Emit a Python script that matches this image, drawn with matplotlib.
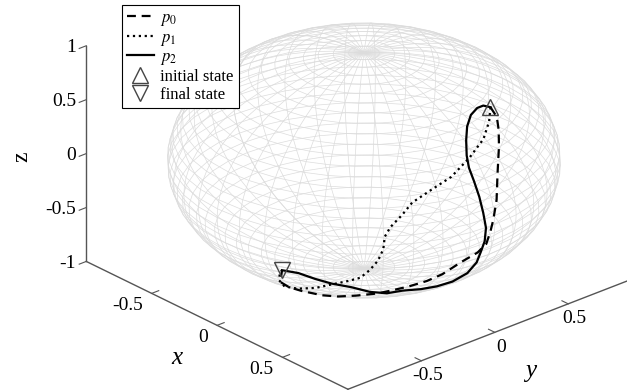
import numpy as np
import matplotlib
matplotlib.use('Agg')
import matplotlib.pyplot as plt
from mpl_toolkits.mplot3d import proj3d

plt.rcParams['font.family'] = ['Liberation Serif', 'DejaVu Serif']
plt.rcParams['mathtext.fontset'] = 'stix'

# Bloch vectors along the three trajectories
p0_x = [0.63, 0.69, 0.76, 0.83, 0.92, 0.98, 1.00, 1.00, 0.98, 0.97, 0.94, 0.88, 0.84, 0.77, 0.71, 0.64, 0.52, 0.43, 0.31, 0.23, 0.20, 0.26, 0.35]
p0_y = [0.30, 0.29, 0.24, 0.18, 0.09, 0.03, -0.01, -0.03, -0.04, -0.09, -0.17, -0.25, -0.32, -0.38, -0.44, -0.48, -0.52, -0.56, -0.56, -0.63, -0.69, -0.80, -0.87]
p0_z = [0.71, 0.66, 0.61, 0.53, 0.38, 0.20, 0.05, -0.05, -0.17, -0.23, -0.29, -0.40, -0.45, -0.51, -0.55, -0.60, -0.67, -0.71, -0.77, -0.74, -0.69, -0.55, -0.35]

p1_x = [0.63, 0.71, 0.79, 0.84, 0.87, 0.86, 0.84, 0.84, 0.82, 0.81, 0.81, 0.78, 0.74, 0.69, 0.63, 0.55, 0.44, 0.30, 0.19, 0.25, 0.31, 0.35]
p1_y = [0.30, 0.22, 0.11, -0.03, -0.18, -0.31, -0.42, -0.49, -0.55, -0.58, -0.59, -0.60, -0.62, -0.64, -0.67, -0.70, -0.72, -0.72, -0.71, -0.80, -0.85, -0.87]
p1_z = [0.71, 0.67, 0.61, 0.54, 0.46, 0.40, 0.33, 0.25, 0.16, 0.08, -0.03, -0.15, -0.25, -0.34, -0.39, -0.45, -0.54, -0.63, -0.68, -0.54, -0.42, -0.35]

p2_x = [0.63, 0.62, 0.63, 0.66, 0.71, 0.77, 0.83, 0.87, 0.92, 0.96, 0.99, 1.00, 0.99, 0.97, 0.94, 0.88, 0.80, 0.77, 0.75, 0.71, 0.68, 0.63, 0.61, 0.55, 0.49, 0.43, 0.35]
p2_y = [0.30, 0.26, 0.21, 0.14, 0.07, 0.01, -0.04, -0.06, -0.07, -0.07, -0.07, -0.06, -0.06, -0.07, -0.07, -0.08, -0.11, -0.19, -0.28, -0.37, -0.45, -0.52, -0.63, -0.71, -0.77, -0.83, -0.87]
p2_z = [0.71, 0.74, 0.75, 0.74, 0.70, 0.64, 0.56, 0.48, 0.39, 0.27, 0.14, 0.00, -0.13, -0.24, -0.35, -0.48, -0.59, -0.61, -0.60, -0.59, -0.59, -0.57, -0.48, -0.44, -0.40, -0.35, -0.35]

init_state = [0.63, 0.30, 0.71]
final_state = [0.35, -0.87, -0.35]

xy_ticks = [-0.5, 0, 0.5]
xy_tick_labels = ['-0.5', '0', '0.5']
z_ticks = [-1, -0.5, 0, 0.5, 1]
z_tick_labels = ['-1', '-0.5', '0', '0.5', '1']

n_mesh = 40  # faces of the sphere mesh in each direction


fig = plt.figure(figsize=(6.27, 3.90), dpi=100)
ax = fig.add_axes([0.0989, -0.1859, 0.9378, 1.5077], projection='3d',
                  proj_type='ortho', computed_zorder=False)
ax.set_box_aspect((1, 1, 0.609))
ax.view_init(elev=25.8, azim=-41.7)

# unit sphere as a see-through mesh
th = np.linspace(-np.pi, np.pi, n_mesh + 1)
ph = np.linspace(-np.pi / 2, np.pi / 2, n_mesh + 1)
TH, PH = np.meshgrid(th, ph)
ax.plot_wireframe(np.cos(PH) * np.cos(TH), np.cos(PH) * np.sin(TH), np.sin(PH),
                  color='#dcdcdc', linewidth=0.5, zorder=1)

ax.plot(p0_x, p0_y, p0_z, color='k', lw=1.6, dashes=(4, 2.6), label='$p_0$', zorder=3)
ax.plot(p1_x, p1_y, p1_z, color='k', lw=1.6, linestyle=':', label='$p_1$', zorder=3)
ax.plot(p2_x, p2_y, p2_z, color='k', lw=1.6, label='$p_2$', zorder=3)
ax.plot([init_state[0]], [init_state[1]], [init_state[2]], '^', ms=11.5,
        mfc='none', mec='#444444', mew=1.0, label='initial state', zorder=4)
ax.plot([final_state[0]], [final_state[1]], [final_state[2]], 'v', ms=11.5,
        mfc='none', mec='#444444', mew=1.0, label='final state', zorder=4)

ax.set_xlim(-1, 1)
ax.set_ylim(-1, 1)
ax.set_zlim(-1, 1)
ax.set_xticks(xy_ticks)
ax.set_yticks(xy_ticks)
ax.set_zticks(z_ticks)
ax.zaxis.set_ticks_position('lower')

ax.grid(False)
for axis in (ax.xaxis, ax.yaxis, ax.zaxis):
    axis.set_pane_color((1, 1, 1, 0))
    axis.pane.set_edgecolor('none')
    axis.line.set_color('#555555')
    axis.line.set_linewidth(1.0)
    axis.set_tick_params(colors='#555555', width=1.0, labelbottom=False)
# make every tick point into the box
for axis in (ax.xaxis, ax.yaxis):
    axis._axinfo['tick']['inward_factor'] = 0.0
    axis._axinfo['tick']['outward_factor'] = 0.3
ax.zaxis._axinfo['tick']['inward_factor'] = 0.3
ax.zaxis._axinfo['tick']['outward_factor'] = 0.0

# tick labels, set just off the axis lines like the original
M = ax.get_proj()


def tick_label(x, y, z, s, **kw):
    px, py, _ = proj3d.proj_transform(x, y, z, M)
    ax.text2D(px, py, s, transform=ax.transData, fontsize=14, va='center_baseline', **kw)


for t, lab in zip(xy_ticks, xy_tick_labels):
    tick_label(t + 0.057, -1.112, -1, lab, ha='right')
    tick_label(1.134, t - 0.078, -1, lab, ha='center')
for t, lab in zip(z_ticks, z_tick_labels):
    tick_label(-1.034, -1.038, t, lab, ha='right')

fig.text(177 / 627, 1 - 358 / 390, 'x', fontsize=18, style='italic', ha='center', va='center')
fig.text(531 / 627, 1 - 371 / 390, 'y', fontsize=18, style='italic', ha='center', va='center')
fig.text(22 / 627, 1 - 157 / 390, 'z', fontsize=17, rotation=90, ha='center', va='center')

leg = ax.legend(loc='upper left', bbox_to_anchor=(122 / 627, 1 - 5 / 390),
                bbox_transform=fig.transFigure, borderaxespad=0, fontsize=12,
                fancybox=False, edgecolor='k', framealpha=1, handlelength=1.6,
                handletextpad=0.4, labelspacing=0.1, borderpad=0.3)
leg.get_frame().set_linewidth(0.8)

fig.savefig('out.png', dpi=100)
